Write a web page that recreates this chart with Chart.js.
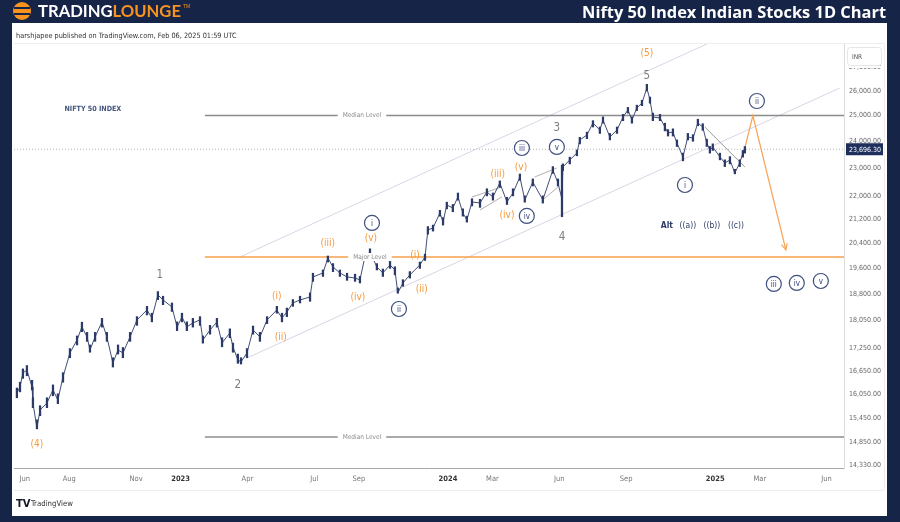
<!DOCTYPE html>
<html><head><meta charset="utf-8">
<script src="https://cdn.jsdelivr.net/npm/chart.js@4.4.1/dist/chart.umd.min.js"></script>
<style>html,body{margin:0;padding:0;background:#162447;overflow:hidden}canvas{display:block}</style>
</head><body><canvas id="c" width="900" height="522"></canvas>
<script>
// ---- time axis (months since Jan 2022) ----
const timeTickPos = [5,7,10,12,15,18,20,24,26,29,32,36,38,41];
const timeTickLabels = ['Jun','Aug','Nov','2023','Apr','Jul','Sep','2024','Mar','Jun','Sep','2025','Mar','Jun'];
const priceTicks = [27000,26000,25000,24000,23000,22000,21200,20400,19600,18800,18050,17250,16650,16050,15450,14850,14330];

// ---- price series ----
const months = [4.65,4.79,4.92,5.10,5.33,5.37,5.55,5.69,6.00,6.27,
6.49,6.72,7.03,7.35,7.57,7.80,7.93,8.16,8.47,8.69,
8.96,9.19,9.41,9.73,10.04,10.49,10.71,10.98,11.21,11.61,
11.84,12.06,12.28,12.55,12.87,13.00,13.32,13.63,13.86,14.21,
14.35,14.57,14.71,14.98,15.25,15.56,15.88,16.32,16.55,16.77,
17.04,17.36,17.81,17.94,18.39,18.61,18.84,19.15,19.47,19.83,
20.05,20.27,20.50,20.81,21.08,21.40,21.62,21.75,21.98,22.29,
22.74,22.97,23.10,23.33,23.64,23.78,23.95,24.22,24.45,24.67,
24.85,25.08,25.44,25.75,26.02,26.33,26.65,26.92,27.23,27.45,
27.81,28.26,28.71,28.94,29.12,29.16,29.47,29.79,29.92,30.24,
30.51,30.82,30.96,31.27,31.59,31.86,32.08,32.26,32.48,32.71,
32.93,33.07,33.20,33.52,33.74,33.88,34.10,34.28,34.55,34.77,
35.00,35.22,35.44,35.62,35.76,35.89,36.21,36.43,36.66,36.88,
37.10,37.24,37.33];
const closes = [16073,16227,16593,16672,16227,15819,15202,15643,15819,16150,
15894,16488,17130,17489,17855,17572,17212,17572,17997,17572,
16859,17212,17130,17572,18055,18344,18111,18788,18639,18432,
17855,18140,17855,17969,18055,17489,17769,17997,17405,17685,
17294,16940,16886,17130,17769,17572,18055,18344,18111,18286,
18550,18639,18728,19334,19458,19928,19644,19458,19334,19303,
19242,19960,20120,19644,19458,19707,19551,18848,19150,19396,
19707,19960,20837,20903,21409,21104,21684,21580,21962,21409,
21172,21787,21753,22137,21962,22456,21787,22102,22673,21857,
22492,21857,22926,22456,21884,23036,23294,23556,24048,24240,
24708,24434,24826,24163,24434,24945,25225,24826,25305,25508,
26125,25630,24945,24906,24552,24318,24357,23934,23406,24163,
24124,24708,24552,23934,23669,23782,23406,23183,23294,22817,
23183,23556,23696];
const highs = [16200,16350,16700,16790,16400,15950,15400,15750,15950,16280,
16050,16600,17250,17600,17990,17700,17350,17700,18100,17700,
17000,17350,17280,17700,18150,18450,18250,18890,18750,18550,
18000,18250,18000,18100,18150,17600,17900,18100,17550,17800,
17400,17100,17000,17250,17880,17700,18150,18450,18250,18400,
18650,18750,18850,19450,19550,19990,19750,19550,19450,19420,
19350,20050,20220,19750,19580,19820,19650,19000,19250,19500,
19800,20050,20950,21000,21500,21250,21780,21700,22100,21550,
21300,21900,21880,22250,22100,22530,21950,22250,22780,22000,
22600,22000,23050,22600,23100,23150,23400,23670,24150,24350,
24800,24550,24950,24300,24550,25050,25330,24950,25420,25620,
26277,25750,25100,25050,24700,24450,24480,24050,23550,24300,
24250,24857,24680,24080,23800,23900,23550,23300,23420,22950,
23300,23650,23800];
const lows = [15950,16100,16450,16520,16150,15700,15180,15500,15700,16000,
15800,16350,17000,17350,17720,17450,17150,17450,17850,17450,
16750,17100,17000,17450,17900,18200,18000,18650,18500,18300,
17750,18000,17750,17850,17900,17400,17650,17850,17300,17550,
17150,16850,16830,17000,17650,17450,17950,18250,18000,18150,
18450,18550,18600,19200,19350,19800,19500,19350,19230,19200,
19150,19850,20000,19550,19350,19600,19400,18840,19050,19300,
19600,19850,20700,20800,21300,21000,21550,21450,21850,21300,
21100,21650,21600,22000,21850,22300,21700,22000,22550,21780,
22350,21750,22800,22350,21281,22900,23150,23450,23900,24100,
24550,24300,24700,24050,24300,24800,25100,24700,25200,25400,
26000,25500,24800,24800,24400,24200,24200,23800,23263,24050,
24000,24600,24420,23800,23550,23650,23300,23050,23150,22786,
23050,23400,23550];
const lastPrice = 23696.30;

// ---- levels & drawn lines (time, price) ----
const medianHigh = 25000, medianLow = 14985, majorLevel = 19960;
const levelStart = 13.09, axisStart = 4.52, axisEnd = 41.78;
const channelUpper = [[14.66,19960],[35.62,28021]];
const channelLower = [[14.98,16994],[41.59,26125]];
const wedge1 = [[25.08,21962],[26.42,22314]];
const wedge2 = [[25.44,21511],[26.42,21962]];
const wedge3 = [[27.90,22673],[28.89,22999]];
const wedge4 = [[28.26,21857],[28.94,22314]];
const trendLine = [[35.53,24552],[37.33,23036]];
const projection = [[37.33,23745],[37.69,25000],[39.17,20184]];

// ---- wave labels (time, price, text, style) ----
const waveLabels = [
 [5.55,14819,'(4)','o'],[11.07,19396,'1','g'],[14.57,16279,'2','g'],
 [16.32,18758,'(i)','o'],[16.50,17572,'(ii)','o'],[18.61,20410,'(iii)','o'],
 [19.96,18728,'(iv)','o'],[20.54,20574,'(v)','o'],[20.59,21071,'i','c'],
 [21.80,18373,'ii','c'],[22.52,20024,'(i)','o'],[22.83,18968,'(ii)','o'],
 [26.24,22781,'(iii)','o'],[26.65,21341,'(iv)','o'],[27.28,23036,'(v)','o'],
 [27.32,23744,'iii','c'],[27.54,21307,'iv','c'],[28.89,24512,'3','g'],
 [28.89,23782,'v','c'],[29.12,20606,'4','g'],[32.93,26629,'5','g'],
 [32.93,27622,'(5)','o'],[34.64,22385,'i','c'],[37.87,25589,'ii','c'],
 [33.83,20971,'Alt','nb'],[34.77,20971,'((a))','n'],[35.85,20971,'((b))','n'],
 [36.93,20971,'((c))','n'],[38.63,19120,'iii','c'],[39.66,19150,'iv','c'],
 [40.74,19211,'v','c'],[8.06,25265,'NIFTY 50 INDEX','t']
];
const levelLabels = [[20.14,medianHigh,'Median Level'],[20.14,medianLow,'Median Level'],[20.5,majorLevel,'Major Level']];

const NAVY='#162447', CANDLE='#2b3a67', ORANGE='#f59a3c';
const F="'Liberation Sans Narrow','DejaVu Sans Condensed','Liberation Sans',sans-serif";
const pts = a => a.map(p=>({x:p[0],y:p[1]}));
const lineDs = (data,color,w,extra) => Object.assign({type:'line',data:pts(data),borderColor:color,borderWidth:w,pointRadius:0,fill:false,tension:0},extra||{});

function fitText(c,text,weight,family,target,y,x,align,color){
  c.font=`${weight} 20px ${family}`;
  const s=20*target/c.measureText(text).width;
  c.font=`${weight} ${s}px ${family}`;
  c.textAlign=align; c.textBaseline='middle'; c.fillStyle=color;
  c.fillText(text,x,y);
}

const framePlugin = {
  id:'frame',
  beforeDraw(chart){
    const c=chart.ctx; c.save();
    c.fillStyle=NAVY; c.fillRect(0,0,900,522);
    c.fillStyle='#fff'; c.fillRect(12,23,875,493);
    // logo
    c.fillStyle='#f7931e'; c.beginPath(); c.arc(22,11,9,0,Math.PI*2); c.fill();
    c.strokeStyle=NAVY; c.lineWidth=2;
    c.beginPath(); c.moveTo(14,8); c.lineTo(30,8); c.moveTo(14,14); c.lineTo(30,14); c.stroke();
    c.font="bold 20px 'Lato','Open Sans',sans-serif";
    const w1=c.measureText('TRADING').width, w2=c.measureText('LOUNGE').width;
    const s=20*143/(w1+w2);
    c.font=`bold ${s}px 'Lato','Open Sans',sans-serif`; c.textBaseline='middle'; c.textAlign='left';
    c.fillStyle='#fff'; c.fillText('TRADING',38,12);
    const ww=c.measureText('TRADING').width;
    c.fillStyle='#f7931e'; c.fillText('LOUNGE',38+ww,12);
    c.font="5px sans-serif"; c.fillText('TM',183,7);
    fitText(c,'Nifty 50 Index Indian Stocks 1D Chart','bold',"'Open Sans',sans-serif",304,13,886,'right','#fff');
    fitText(c,'harshjapee published on TradingView.com, Feb 06, 2025 01:59 UTC','normal',F,221,36,16,'left','#333');
    c.strokeStyle='#eeeeee'; c.lineWidth=1;
    c.beginPath(); c.moveTo(14,43.5); c.lineTo(884,43.5);
    c.moveTo(14,490.5); c.lineTo(884,490.5);
    c.moveTo(884.5,44); c.lineTo(884.5,490); c.stroke();
    // footer logo
    c.fillStyle='#131722'; c.font="bold 10px 'DejaVu Sans',sans-serif"; c.textBaseline='middle';
    c.fillText('TV',16,504);
    fitText(c,'TradingView','normal',F,42,504,31,'left','#333');
    c.restore();
  },
  afterDraw(chart){
    const c=chart.ctx, y=chart.scales.y; c.save();
    // INR box
    c.fillStyle='#fff'; c.strokeStyle='#e6e6e6'; c.lineWidth=1;
    c.beginPath(); c.roundRect(847.5,47.5,34,18,3); c.fill(); c.stroke();
    c.fillStyle='#fff'; c.fillRect(846,66,37,2);
    c.fillStyle='#555'; c.font=`6.5px ${F}`; c.textAlign='left'; c.textBaseline='middle';
    c.fillText('INR',852,57);
    // last price box
    const py=y.getPixelForValue(lastPrice);
    c.fillStyle='#1e2f5c'; c.fillRect(846,py-6,37,12);
    c.fillStyle='#fff'; c.font=`7px ${F}`; c.fillText('23,696.30',849,py+0.5);
    c.restore();
  }
};

const annPlugin = {
  id:'ann',
  afterDatasetsDraw(chart){
    const c=chart.ctx, xs=chart.scales.x, ys=chart.scales.y; c.save();
    c.textAlign='center'; c.textBaseline='middle';
    for(const [m,p,t] of levelLabels){
      const x=xs.getPixelForValue(m), y=ys.getPixelForValue(p);
      c.font=`6.5px ${F}`; const w=c.measureText(t).width;
      c.fillStyle='#fff'; c.fillRect(x-w/2-5,y-4,w+10,8);
      c.fillStyle='#8a8a8a'; c.fillText(t,x,y);
    }
    for(const [m,p,t,st] of waveLabels){
      const x=xs.getPixelForValue(m), y=ys.getPixelForValue(p);
      if(st==='o'){c.font=`10px ${F}`; c.fillStyle=ORANGE; c.fillText(t,x,y);}
      else if(st==='g'){c.font=`11.5px ${F}`; c.fillStyle='#7d7d7d'; c.fillText(t,x,y);}
      else if(st==='c'){
        c.beginPath(); c.arc(x,y,7.5,0,Math.PI*2); c.fillStyle='#fff'; c.fill();
        c.lineWidth=1.2; c.strokeStyle='#3f4f80'; c.stroke();
        c.font=`8px ${F}`; c.fillStyle='#34447a'; c.fillText(t,x,y+0.5);
      }
      else if(st==='n'){c.font=`8.5px ${F}`; c.fillStyle='#2b3a67'; c.fillText(t,x,y);}
      else if(st==='nb'){c.font=`bold 8.5px ${F}`; c.fillStyle='#2b3a67'; c.fillText(t,x,y);}
      else if(st==='t'){
        c.font=`bold 20px ${F}`; const s=20*57/c.measureText(t).width;
        c.font=`bold ${s}px ${F}`; c.fillStyle='#45557f'; c.fillText(t,x,y);
      }
    }
    const n=projection.length;
    const x1=xs.getPixelForValue(projection[n-2][0]), y1=ys.getPixelForValue(projection[n-2][1]);
    const x2=xs.getPixelForValue(projection[n-1][0]), y2=ys.getPixelForValue(projection[n-1][1]);
    const a=Math.atan2(y2-y1,x2-x1);
    c.strokeStyle='#f7a65a'; c.lineWidth=1.2; c.beginPath();
    c.moveTo(x2-7*Math.cos(a-0.45),y2-7*Math.sin(a-0.45)); c.lineTo(x2,y2);
    c.lineTo(x2-7*Math.cos(a+0.45),y2-7*Math.sin(a+0.45)); c.stroke();
    c.restore();
  }
};

const datasets = [
  {type:'bar',data:months.map((m,i)=>({x:m,y:[lows[i],highs[i]]})),backgroundColor:CANDLE,barThickness:1.6,borderWidth:0},
  lineDs(months.map((m,i)=>[m,closes[i]]),CANDLE,0.9),
  lineDs(projection,'#f7a65a',1.3),
  lineDs(wedge1,'#9a9a9a',0.8), lineDs(wedge2,'#9a9a9a',0.8),
  lineDs(wedge3,'#9a9a9a',0.8), lineDs(wedge4,'#9a9a9a',0.8),
  lineDs(trendLine,'#8a8a8a',0.9),
  lineDs([[levelStart,medianHigh],[axisEnd,medianHigh]],'#8c8c8c',1.5),
  lineDs([[levelStart,medianLow],[axisEnd,medianLow]],'#8c8c8c',1.5),
  lineDs([[levelStart,majorLevel],[axisEnd,majorLevel]],'#f7a04b',1.5),
  lineDs(channelUpper,'#ddd3e8',1),
  lineDs(channelLower,'#ddd3e8',1),
  lineDs([[axisStart,lastPrice],[axisEnd,lastPrice]],'#b5b5b5',1,{borderDash:[1,2]})
];

new Chart(document.getElementById('c'),{
  type:'bar',
  data:{datasets},
  options:{
    responsive:false, animation:false, devicePixelRatio:1,
    layout:{padding:{left:14,top:44,right:16,bottom:32}},
    plugins:{legend:{display:false},tooltip:{enabled:false}},
    scales:{
      x:{type:'linear',min:axisStart,max:axisEnd,offset:false,
        grid:{display:false,drawTicks:false},border:{display:true,color:'#a8a8a8'},
        afterBuildTicks:s=>{s.ticks=timeTickPos.map(v=>({value:v}));},
        afterFit:s=>{s.height=22;},
        ticks:{autoSkip:false,maxRotation:0,padding:7,
          callback:(v,i)=>timeTickLabels[i],
          color:ctx=>/^\d{4}$/.test(timeTickLabels[ctx.index])?'#333':'#777',
          font:ctx=>({family:F,size:7.5,weight:/^\d{4}$/.test(timeTickLabels[ctx.index])?'bold':'normal'})}},
      y:{type:'logarithmic',position:'right',min:14261.7,max:28021,
        grid:{display:false,drawTicks:false},border:{display:true,color:'#dcdcdc'},
        afterBuildTicks:s=>{s.ticks=priceTicks.map(v=>({value:v}));},
        afterFit:s=>{s.width=40;},
        ticks:{autoSkip:false,padding:5,color:'#666',font:{family:F,size:7},
          callback:v=>Number(v).toLocaleString('en-US',{minimumFractionDigits:2,maximumFractionDigits:2})}}
    }
  },
  plugins:[framePlugin,annPlugin]
});
</script></body></html>
